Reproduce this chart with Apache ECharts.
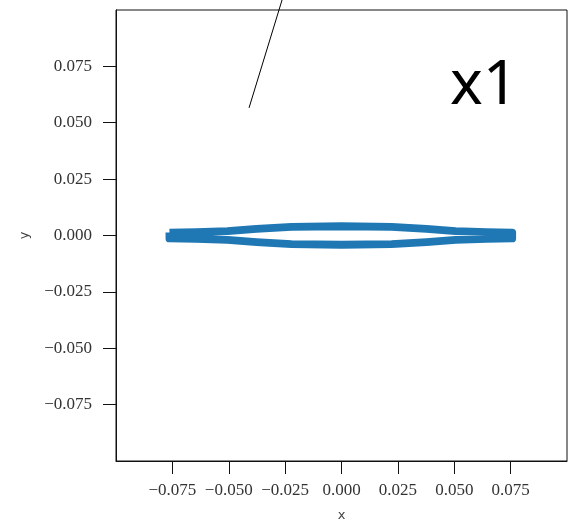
<!DOCTYPE html>
<html>
<head>
<meta charset="utf-8">
<script src="https://cdn.jsdelivr.net/npm/echarts@6/dist/echarts.min.js"></script>
<style>
  html, body { margin: 0; padding: 0; background: #fff; }
  #chart { width: 568px; height: 520px; }
</style>
</head>
<body>
<div id="chart"></div>
<script>
// Closed curve (blue band)
const shapeX = [-0.0763, -0.0643, -0.0506, -0.0377, -0.0222, 0.0000, 0.0222, 0.0377, 0.0506, 0.0643, 0.0757,
                0.0757, 0.0643, 0.0506, 0.0377, 0.0222, 0.0000, -0.0222, -0.0377, -0.0506, -0.0643, -0.0763, -0.0763];
const shapeY = [0.0013, 0.0015, 0.0019, 0.0029, 0.0038, 0.0041, 0.0038, 0.0029, 0.0019, 0.0015, 0.0013,
                -0.0013, -0.0015, -0.0019, -0.0029, -0.0038, -0.0041, -0.0038, -0.0029, -0.0019, -0.0015, -0.0013, 0.0013];
// Thin black annotation line
const lineX = [-0.0410, -0.0250];
const lineY = [0.0566, 0.1089];
// Ticks
const tickValues = [-0.075, -0.050, -0.025, 0.000, 0.025, 0.050, 0.075];
const annotationText = 'x1';

const fmt = v => (v < 0 ? '\u2212' : '') + Math.abs(v).toFixed(3);

const labelStyle = {
  fontFamily: 'Liberation Serif',
  fontSize: 17,
  color: '#333'
};

const chart = echarts.init(document.getElementById('chart'), null, { renderer: 'canvas' });
chart.setOption({
  animation: false,
  backgroundColor: '#fff',
  grid: {
    left: 116, top: 10, width: 451, height: 451,
    containLabel: false, outerBoundsMode: 'none',
    show: true, borderColor: '#111', borderWidth: 1, backgroundColor: 'transparent'
  },
  xAxis: {
    type: 'value', min: -0.1, max: 0.1, interval: 0.025,
    name: 'x', nameLocation: 'middle', nameGap: 48,
    nameTextStyle: { fontFamily: 'DejaVu Sans', fontSize: 13, color: '#444' },
    axisLine: { show: true, onZero: false, lineStyle: { color: '#111', width: 1 } },
    splitLine: { show: false },
    axisTick: { show: true, inside: false, length: 13, customValues: tickValues, lineStyle: { color: '#111', width: 1 } },
    axisLabel: Object.assign({ margin: 21, customValues: tickValues, formatter: fmt }, labelStyle)
  },
  yAxis: {
    type: 'value', min: -0.1, max: 0.1, interval: 0.025,
    name: 'y', nameLocation: 'middle', nameGap: 85,
    nameTextStyle: { fontFamily: 'DejaVu Sans', fontSize: 13, color: '#444' },
    axisLine: { show: true, onZero: false, lineStyle: { color: '#111', width: 1 } },
    splitLine: { show: false },
    axisTick: { show: true, inside: false, length: 13, customValues: tickValues, lineStyle: { color: '#111', width: 1 } },
    axisLabel: Object.assign({ margin: 24, customValues: tickValues, formatter: fmt }, labelStyle)
  },
  graphic: [{
    type: 'text', x: 450, y: 86, z: 100,
    style: { text: annotationText, fontFamily: 'Noto Sans', fontSize: 62, fill: '#000', align: 'left', verticalAlign: 'middle' }
  }],
  series: [
    {
      type: 'line',
      data: shapeX.map((x, i) => [x, shapeY[i]]),
      showSymbol: false, symbol: 'none', smooth: false,
      lineStyle: { color: '#1f77b4', width: 7.8, join: 'round', cap: 'butt' },
      z: 2
    },
    {
      type: 'line',
      data: lineX.map((x, i) => [x, lineY[i]]),
      showSymbol: false, symbol: 'none', clip: false,
      lineStyle: { color: '#000', width: 1 },
      z: 3
    }
  ]
});
</script>
</body>
</html>
